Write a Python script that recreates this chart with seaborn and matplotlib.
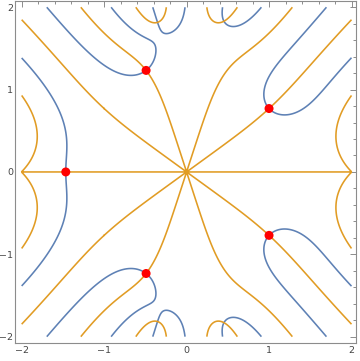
import numpy as np
import matplotlib
matplotlib.use("Agg")
import matplotlib.pyplot as plt
import seaborn as sns

# Roots (red points); conjugates are added below
root_x = [-1.465, 1.0, -0.491]
root_y = [0.0, 0.77, 1.233]

# f(z) = c + odd powers from z^5 up, real coefficients
powers = [0, 5, 7, 9, 11, 13, 15, 17]

def fit_coeffs():
    # f must vanish at the roots and be flat (f' = f'' = 0) at z = 2
    p = np.array(powers)
    rows = []
    for x, y in zip(root_x, root_y):
        v = (complex(x, y) / 2) ** p
        rows.append(v.real)
        if y != 0:
            rows.append(v.imag)
    rows.append(p * 1.0)
    rows.append(p * (p - 1.0))
    _, _, vt = np.linalg.svd(np.array(rows))
    return vt[-1]

coef = fit_coeffs()

grid = np.linspace(-2, 2, 801)
X, Y = np.meshgrid(grid, grid)
W = (X + 1j * Y) / 2
F = sum(c * W**k for c, k in zip(coef, powers))

sns.set_style("white")
plt.rcParams['font.family'] = ['DejaVu Sans']

fig = plt.figure(figsize=(3.60, 3.61), dpi=100)
ax = fig.add_axes([0.043, 0.0485, 0.946, 0.949])

ax.contour(X, Y, F.real, levels=[0], colors="#5E81B5", linewidths=1.15)
ax.contour(X, Y, F.imag, levels=[0], colors="#E19C24", linewidths=1.15)

pts_x = root_x + [x for x, y in zip(root_x, root_y) if y != 0]
pts_y = root_y + [-y for y in root_y if y != 0]
sns.scatterplot(x=pts_x, y=pts_y, color="#FF0000", s=42, edgecolor="none", ax=ax, zorder=5)

ax.set_xlim(-2.075, 2.055)
ax.set_ylim(-2.083, 2.077)

major = [-2, -1, 0, 1, 2]
labels = ["\u22122", "\u22121", "0", "1", "2"]
ax.set_xticks(major)
ax.set_xticklabels(labels)
ax.set_yticks(major)
ax.set_yticklabels(labels)
ax.set_xticks(np.arange(-2, 2.01, 0.2), minor=True)
ax.set_yticks(np.arange(-2, 2.01, 0.2), minor=True)
ax.tick_params(which="both", direction="in", top=True, right=True, color="#8c8c8c", width=0.7)
ax.tick_params(which="major", length=4.2, labelsize=6.8, labelcolor="#444444", pad=1.5)
ax.tick_params(which="minor", length=2.4)
for sp in ax.spines.values():
    sp.set_color("#8c8c8c")
    sp.set_linewidth(0.8)

fig.savefig("out.png", dpi=100)
